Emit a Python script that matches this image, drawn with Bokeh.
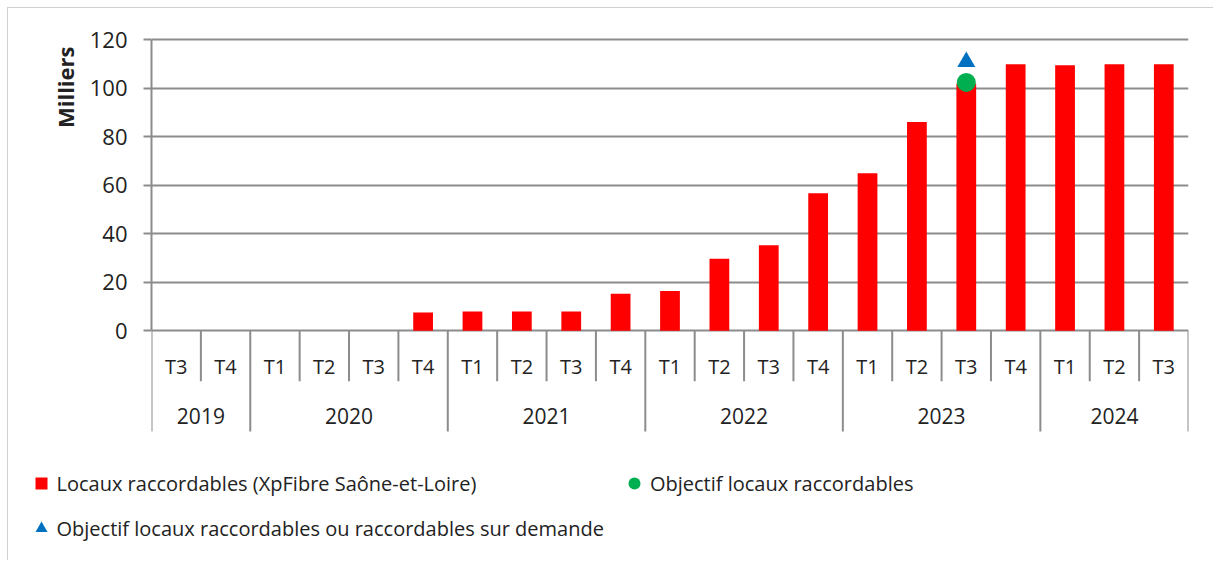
from bokeh.plotting import figure
from bokeh.layouts import column
from bokeh.models import (ColumnDataSource, Range1d, FixedTicker, Title, Legend,
                          LegendItem)
from bokeh.core.properties import value
from bokeh.embed import file_html
from bokeh.resources import INLINE

# ---------------- data ----------------
years = ["2019", "2020", "2021", "2022", "2023", "2024"]
quarters = [
    ["T3", "T4"],
    ["T1", "T2", "T3", "T4"],
    ["T1", "T2", "T3", "T4"],
    ["T1", "T2", "T3", "T4"],
    ["T1", "T2", "T3", "T4"],
    ["T1", "T2", "T3"],
]
locaux_raccordables = [0, 0, 0, 0, 0, 7.5, 8.0, 8.0, 8.0, 15.3, 16.4, 29.7,
                       35.3, 56.8, 65.0, 86.2, 101.9, 110.0, 109.6, 110.0, 110.0]
objectif_periode = ("2023", "T3")
objectif_raccordables = [102.5]
objectif_sur_demande = [111.0]
y_ticks = [0, 20, 40, 60, 80, 100, 120]
y_label = "Milliers"
legend_labels = [
    "Locaux raccordables (XpFibre Saône-et-Loire)",
    "Objectif locaux raccordables",
    "Objectif locaux raccordables ou raccordables sur demande",
]

# ---------------- styles ----------------
RED = "#FF0000"
GREEN = "#00B050"
BLUE = "#0070C0"
GRID = "#8C8C8C"
TXT = "#222222"
FONT = "Open Sans"

# flatten categories
flat_q, flat_y = [], []
for yr, qs in zip(years, quarters):
    for q in qs:
        flat_q.append(q)
        flat_y.append(yr)
n = len(flat_q)
xs = list(range(n))
obj_x = [flat_q.index(objectif_periode[1], flat_y.index(objectif_periode[0]))]

src = ColumnDataSource(dict(x=xs, locaux=locaux_raccordables, q=flat_q, yr=flat_y))

# geometry (pixels per unit of the value axis)
PPU = 291.5 / 120.0
y_top = 120 + 9.5 / PPU
y_bot = -110 / PPU

p = figure(width=1205, height=442,
           x_range=Range1d(-0.5, n - 0.5), y_range=Range1d(y_bot, y_top),
           x_axis_type=None, title=None, toolbar_location=None,
           output_backend="svg",
           min_border_left=143, min_border_right=25,
           min_border_top=22, min_border_bottom=10)
p.outline_line_color = None
p.frame_align = False

# y axis
ya = p.yaxis[0]
ya.ticker = FixedTicker(ticks=y_ticks)
ya.bounds = (y_ticks[0], y_ticks[-1])
ya.axis_line_color = GRID
ya.axis_line_width = 2
ya.major_tick_line_color = GRID
ya.major_tick_line_width = 2
ya.major_tick_out = 8
ya.major_tick_in = 0
ya.minor_tick_line_color = None
ya.major_label_standoff = 16
ya.major_label_text_font = FONT
ya.major_label_text_font_size = "22px"
ya.major_label_text_color = TXT

p.ygrid.ticker = FixedTicker(ticks=y_ticks)
p.ygrid.grid_line_color = GRID
p.ygrid.grid_line_width = 2

p.add_layout(Title(text=y_label, align="right", offset=16, standoff=14,
                   text_font=FONT, text_font_style="bold",
                   text_font_size="22px", text_color=TXT), "left")

# bars and objective markers
r_bar = p.vbar(x="x", top="locaux", width=0.4, source=src,
               fill_color=RED, line_color=None)
r_circ = p.scatter(x=obj_x, y=objectif_raccordables, marker="circle", size=19,
                   fill_color=GREEN, line_color=None)
r_tri = p.scatter(x=obj_x, y=objectif_sur_demande, marker="triangle", size=18,
                  fill_color=BLUE, line_color=None)

# multi-level category axis
T_LEN = 50.5 / PPU
Y_LEN = 101 / PPU
year_edges = {0}
acc = 0
year_centers = []
for qs in quarters:
    year_centers.append(acc + (len(qs) - 1) / 2.0)
    acc += len(qs)
    year_edges.add(acc)
sx, sy0, sy1 = [], [], []
for i in range(n + 1):
    sx.append(i - 0.5)
    sy0.append(0)
    sy1.append(-Y_LEN if i in year_edges else -T_LEN)
p.segment(x0=sx, y0=sy0, x1=sx, y1=sy1, line_color=GRID, line_width=2)

p.text(x=xs, y=[-35.5 / PPU] * n, text=flat_q, text_align="center",
       text_baseline="middle", text_font=value(FONT), text_font_size="20px",
       text_color=TXT)
p.text(x=year_centers, y=[-85.5 / PPU] * len(years), text=years,
       text_align="center", text_baseline="middle", text_font=value(FONT),
       text_font_size="21px", text_color=TXT)

# ---------------- legend (separate strip below the chart) ----------------
LW, LH = 1205, 110
lg = figure(width=LW, height=LH, x_range=Range1d(0, LW), y_range=Range1d(0, LH),
            x_axis_type=None, y_axis_type=None, title=None,
            toolbar_location=None, output_backend="svg",
            min_border_left=0, min_border_right=0, min_border_top=0,
            min_border_bottom=0)
lg.outline_line_color = None
lg.frame_align = False
lg.xgrid.visible = False
lg.ygrid.visible = False

k_sq = lg.scatter(x=xs, y=locaux_raccordables, marker="square",
                  fill_color=RED, line_color=None, visible=False)
k_circ = lg.scatter(x=obj_x, y=objectif_raccordables, marker="circle",
                    fill_color=GREEN, line_color=None, visible=False)
k_tri = lg.scatter(x=obj_x, y=objectif_sur_demande, marker="triangle",
                   fill_color=BLUE, line_color=None, visible=False)

legend = Legend(items=[
    LegendItem(label=legend_labels[0], renderers=[k_sq]),
    LegendItem(label=legend_labels[1], renderers=[k_circ]),
    LegendItem(label=legend_labels[2], renderers=[k_tri]),
], location=(17.5, 17), orientation="horizontal", ncols=2,
    glyph_width=30, glyph_height=30, label_height=30, spacing=15,
    padding=0, margin=0, label_standoff=1,
    border_line_color=None, background_fill_alpha=0,
    label_text_font=FONT, label_text_font_size="20px", label_text_color=TXT)
lg.add_layout(legend)

layout = column(p, lg, spacing=0)
layout.styles = {"margin-left": "7px", "margin-top": "7px",
                 "border-left": "1px solid #d0d0d0",
                 "border-top": "1px solid #d0d0d0"}

open("out.html", "w").write(file_html(layout, INLINE))
